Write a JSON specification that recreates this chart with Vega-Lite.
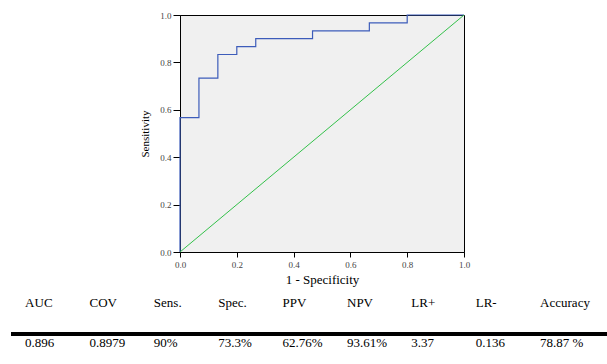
{
  "$schema": "https://vega.github.io/schema/vega-lite/v6.json",
  "background": "white",
  "padding": {"left": 9, "top": 10, "right": 0, "bottom": 0},
  "spacing": 6,
  "config": {"font": "Liberation Serif"},
  "vconcat": [
    {
      "spacing": 0,
      "hconcat": [
        {
          "width": 128,
          "height": 1,
          "view": {"stroke": null},
          "data": {"values": []},
          "mark": "point"
        },
        {
          "width": 284,
          "height": 237,
          "view": {"fill": "#f0f0f0", "stroke": "black", "strokeWidth": 1},
          "layer": [
            {
              "data": {"values": [
                {"i": 0, "fpr": 0, "tpr": 0},
                {"i": 1, "fpr": 0, "tpr": 0.5667},
                {"i": 2, "fpr": 0.0667, "tpr": 0.7333},
                {"i": 3, "fpr": 0.1333, "tpr": 0.8333},
                {"i": 4, "fpr": 0.2, "tpr": 0.8667},
                {"i": 5, "fpr": 0.2667, "tpr": 0.9},
                {"i": 6, "fpr": 0.4667, "tpr": 0.9333},
                {"i": 7, "fpr": 0.6667, "tpr": 0.9667},
                {"i": 8, "fpr": 0.8, "tpr": 1},
                {"i": 9, "fpr": 1, "tpr": 1}
              ]},
              "mark": {"type": "line", "interpolate": "step-after", "color": "#3d5cba", "strokeWidth": 1.2},
              "encoding": {
                "x": {
                  "field": "fpr", "type": "quantitative",
                  "scale": {"domain": [0, 1], "nice": false, "zero": false},
                  "axis": {
                    "values": [0, 0.2, 0.4, 0.6, 0.8, 1], "format": ".1f", "grid": false,
                    "domainColor": "black", "tickColor": "black", "tickSize": 5,
                    "labelFont": "Liberation Serif", "labelFontSize": 9, "labelColor": "#444",
                    "labelPadding": 3, "labelFlush": false,
                    "title": "1 - Specificity", "titleFont": "Liberation Serif", "titleFontSize": 13,
                    "titleFontWeight": "normal", "titleColor": "black", "titlePadding": 4
                  }
                },
                "y": {
                  "field": "tpr", "type": "quantitative",
                  "scale": {"domain": [0, 1], "nice": false, "zero": false},
                  "axis": {
                    "values": [0, 0.2, 0.4, 0.6, 0.8, 1], "format": ".1f", "grid": false,
                    "domainColor": "black", "tickColor": "black", "tickSize": 7,
                    "labelFont": "Liberation Serif", "labelFontSize": 9, "labelColor": "#444",
                    "labelPadding": 2, "labelFlush": false,
                    "title": "Sensitivity", "titleFont": "Liberation Serif", "titleFontSize": 11,
                    "titleFontWeight": "normal", "titleColor": "black", "titlePadding": 9
                  }
                },
                "order": {"field": "i", "type": "quantitative"}
              }
            },
            {
              "data": {"values": [{"fpr": 0, "tpr": 0}, {"fpr": 1, "tpr": 1}]},
              "mark": {"type": "line", "color": "#33c04a", "strokeWidth": 1},
              "encoding": {
                "x": {"field": "fpr", "type": "quantitative"},
                "y": {"field": "tpr", "type": "quantitative"}
              }
            }
          ]
        }
      ]
    },
    {
      "width": 598,
      "height": 60,
      "view": {"stroke": null},
      "data": {"values": [
        {"col": "AUC", "row": "header", "label": "AUC"},
        {"col": "COV", "row": "header", "label": "COV"},
        {"col": "Sens.", "row": "header", "label": "Sens."},
        {"col": "Spec.", "row": "header", "label": "Spec."},
        {"col": "PPV", "row": "header", "label": "PPV"},
        {"col": "NPV", "row": "header", "label": "NPV"},
        {"col": "LR+", "row": "header", "label": "LR+"},
        {"col": "LR-", "row": "header", "label": "LR-"},
        {"col": "Accuracy", "row": "header", "label": "Accuracy"},
        {"col": "AUC", "row": "value", "label": "0.896"},
        {"col": "COV", "row": "value", "label": "0.8979"},
        {"col": "Sens.", "row": "value", "label": "90%"},
        {"col": "Spec.", "row": "value", "label": "73.3%"},
        {"col": "PPV", "row": "value", "label": "62.76%"},
        {"col": "NPV", "row": "value", "label": "93.61%"},
        {"col": "LR+", "row": "value", "label": "3.37"},
        {"col": "LR-", "row": "value", "label": "0.136"},
        {"col": "Accuracy", "row": "value", "label": "78.87 %"}
      ]},
      "layer": [
        {
          "mark": {"type": "text", "align": "left", "baseline": "middle", "fontSize": 13, "font": "Liberation Serif", "color": "black"},
          "encoding": {
            "x": {
              "field": "col", "type": "nominal", "axis": null,
              "scale": {"type": "point", "domain": ["AUC", "COV", "Sens.", "Spec.", "PPV", "NPV", "LR+", "LR-", "Accuracy"], "padding": 0.6446, "align": 0.17}
            },
            "y": {
              "field": "row", "type": "nominal", "axis": null,
              "scale": {"type": "point", "domain": ["header", "value"], "padding": 0.25}
            },
            "text": {"field": "label", "type": "nominal"}
          }
        },
        {
          "mark": {"type": "rule", "strokeWidth": 4, "color": "black", "yOffset": -9},
          "encoding": {
            "y": {"datum": "value", "type": "nominal"}
          }
        }
      ]
    }
  ]
}
